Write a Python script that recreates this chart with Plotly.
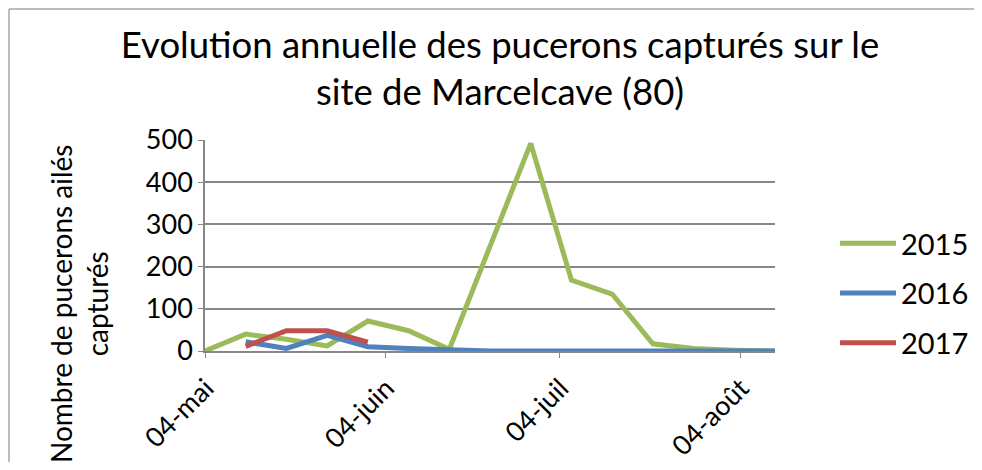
import plotly.graph_objects as go

dates = ["2015-05-04", "2015-05-11", "2015-05-18", "2015-05-25", "2015-06-01",
         "2015-06-08", "2015-06-15", "2015-06-22", "2015-06-29", "2015-07-06",
         "2015-07-13", "2015-07-20", "2015-07-27", "2015-08-03", "2015-08-10"]
v2015 = [0, 40, 28, 12, 71, 48, 4, 248, 492, 168, 135, 17, 6, 2, 0]
v2016 = [None, 22, 6, 37, 10, 6, 2, 0, 0, 0, 0, 0, 0, 0, 0]
v2017 = [None, 11, 48, 48, 21, None, None, None, None, None, None, None, None, None, None]

tick_vals = ["2015-05-04", "2015-06-04", "2015-07-04", "2015-08-04"]
tick_text = ["04-mai", "04-juin", "04-juil", "04-août"]
y_ticks = [0, 100, 200, 300, 400, 500]

series = [("2015", v2015, "#9BBB59"), ("2016", v2016, "#4F81BD"), ("2017", v2017, "#C0504D")]

FONT = "Lato, Carlito, Calibri, sans-serif"
fig = go.Figure()
for name, vals, col in series:
    fig.add_trace(go.Scatter(x=dates, y=vals, name=name, mode="lines",
                             line=dict(color=col, width=5), legendgroup=name,
                             connectgaps=False))

# page has an 8px body margin; work in page pixels and convert
OFF = 8
W, H = 982 - 2 * OFF, 470 - 2 * OFF
PL, PR, PT, PB = 205, 775, 140, 351          # plot area in page pixels
L, R, T, B = PL - OFF, W - (PR - OFF), PT - OFF, H - (PB - OFF)
pw, ph = W - L - R, H - T - B

def px(x):
    return (x - PL) / pw

def py(y):
    return (PB - y) / ph

fig.update_layout(
    width=W, height=H,
    margin=dict(l=L, r=R, t=T, b=B, autoexpand=False),
    paper_bgcolor="white", plot_bgcolor="white",
    font=dict(family=FONT, size=27, color="black"),
    title=dict(text="Evolution annuelle des pucerons capturés sur le<br>site de Marcelcave (80)",
               x=(500 - OFF) / W, xanchor="center", y=1 - 50 / H, yanchor="top",
               font=dict(size=36.5, family=FONT)),
    xaxis=dict(type="date", range=["2015-05-04", "2015-08-10"],
               tickmode="array", tickvals=tick_vals, ticktext=tick_text,
               tickangle=-45, showgrid=False, showline=True, linecolor="#868686",
               linewidth=1.5, ticks="outside", ticklen=5, tickcolor="#868686",
               tickfont=dict(size=27), zeroline=False, automargin=False,
               ticklabelstandoff=4, ticklabelshift=1),
    yaxis=dict(range=[0, 500], tickmode="array", tickvals=y_ticks,
               showgrid=True, gridcolor="#868686", gridwidth=1.5,
               showline=True, linecolor="#868686", linewidth=1.5,
               ticks="outside", ticklen=5, tickcolor="#868686",
               tickfont=dict(size=27), zeroline=False, automargin=False),
    legend=dict(x=px(835), y=py(218), xanchor="left", yanchor="top",
                font=dict(size=29), tracegroupgap=9, bgcolor="rgba(0,0,0,0)",
                itemwidth=56),
    showlegend=True,
)

fig.add_annotation(text="Nombre de pucerons ailés<br>capturés", textangle=-90,
                   xref="paper", yref="paper", x=px(79), y=py(304),
                   xanchor="center", yanchor="middle",
                   showarrow=False, font=dict(size=28, family=FONT))

# outer chart frame (left and top edges)
fig.add_shape(type="line", xref="paper", yref="paper",
              x0=px(9), y0=py(470), x1=px(9), y1=py(9),
              line=dict(color="#A6A6A6", width=1.5))
fig.add_shape(type="line", xref="paper", yref="paper",
              x0=px(9), y0=py(9), x1=px(974), y1=py(9),
              line=dict(color="#A6A6A6", width=1.5))

fig.write_html("out.html", config={"displayModeBar": False})
